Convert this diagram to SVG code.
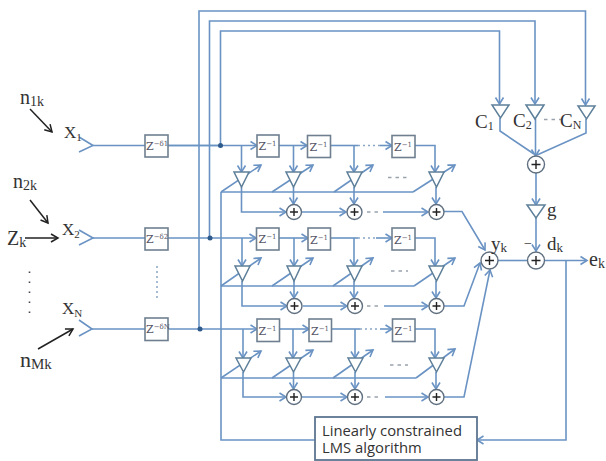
<svg xmlns="http://www.w3.org/2000/svg" width="606" height="461" viewBox="0 0 606 461">
<style>
.w{fill:none;stroke:#6a93c4;stroke-width:1.6}
.a{marker-end:url(#ah)}
.k{fill:none;stroke:#222;stroke-width:1.5;marker-end:url(#ak)}
.d{fill:none;stroke:#8aa6c6;stroke-width:1.5;stroke-dasharray:2 3}
.g{fill:none;stroke:#9aa3ad;stroke-width:1.4;stroke-dasharray:3.500 4}
.bd{fill:none;stroke:#445;stroke-width:1.6;stroke-dasharray:1.500 8.500}
.box{fill:#fff;stroke:#6f7f8f;stroke-width:1.6}
.tri{fill:#fff;stroke:#5d7f99;stroke-width:1.5}
.sum{fill:#fff;stroke:#5f6f7f;stroke-width:1.4}
.plus{fill:none;stroke:#222;stroke-width:1.4}
.dot{fill:#2f5a8c}
.t{font-family:"Liberation Serif",serif;fill:#333}
.z{font-family:"DejaVu Serif",serif;font-size:11px;fill:#556}
.l{font-family:"Open Sans",sans-serif;font-size:14.800px;fill:#333}
</style>
<defs>
<marker id="ah" markerUnits="userSpaceOnUse" markerWidth="12" markerHeight="12" refX="8" refY="5" orient="auto" overflow="visible"><path d="M1.500,1L8,5L1.500,9" fill="none" stroke="#6a93c4" stroke-width="1.600"/></marker>
<marker id="ak" markerUnits="userSpaceOnUse" markerWidth="12" markerHeight="12" refX="8" refY="5" orient="auto" overflow="visible"><path d="M1,1L8,5L1,9" fill="none" stroke="#222" stroke-width="1.500"/></marker>
</defs>

<g id="connectors">
<path class="w a" d="M199,329V11H585.500V105"/>
<path class="w a" d="M209.500,238V21H535V104"/>
<path class="w a" d="M220.500,145V31H499.500V104"/>
<path class="w" d="M221,192V440H315"/>
<path class="w a" d="M566,261V440H477"/>
<path class="w" d="M500,118V131L534,154"/>
<path class="w a" d="M535.500,119V156"/>
<path class="w" d="M586,119V133L537,155"/>
<path class="w a" d="M536,173V205"/>
<path class="w a" d="M536,218V251"/>
<path class="w" d="M498,260.500H527"/>
<path class="w a" d="M545,260.500H587"/>
<path class="w" d="M93,145.500H145M168,145.500H220"/>
<path class="w" d="M93,238H145M168,238H210"/>
<path class="w" d="M92,329H145M168,329H200"/>
<!-- row 1 -->
<path class="w a" d="M168,145.500H257"/><path class="w a" d="M279,145.500H307"/><path class="w" d="M330,145.500H358"/><path class="w a" d="M380,145.500H392"/>
<path class="d" d="M358,145.500H380"/>
<path class="w a" d="M415,145.500H435V172"/>
<path class="w a" d="M241.500,145.500V172"/><path class="w a" d="M293.500,145.500V172"/><path class="w a" d="M354,145.500V172"/>
<path class="w" d="M221,192H413"/>
<path class="w a" d="M221,192L261,165"/><path class="w a" d="M272,192L313,165"/><path class="w a" d="M334,192L373,165"/><path class="w a" d="M413,192L455,165"/>
<path class="w a" d="M241.500,187V212H286"/>
<path class="w a" d="M293.500,187V204"/><path class="w a" d="M354,187V204"/><path class="w a" d="M436,187V204"/>
<path class="w a" d="M302,212H346"/><path class="w a" d="M383,212H428"/>
<path class="g" d="M367,212H382"/>
<path class="w a" d="M444,211.500H462L485,250"/>
<!-- row 2 -->
<path class="w a" d="M210,238H256"/><path class="w a" d="M279,238H308"/><path class="w" d="M330,238H358"/><path class="w a" d="M376,238H392"/>
<path class="d" d="M358,238H376"/>
<path class="w a" d="M415,238H435V266"/>
<path class="w a" d="M242,238V266"/><path class="w a" d="M294,238V266"/><path class="w a" d="M354,238V266"/>
<path class="w" d="M221,286H414"/>
<path class="w a" d="M221,286L261,258"/><path class="w a" d="M272,286L313,258"/><path class="w a" d="M333,286L373,258"/><path class="w a" d="M414,286L455,258"/>
<path class="w a" d="M242,281V306H287"/>
<path class="w a" d="M294,281V298"/><path class="w a" d="M354,281V298"/><path class="w a" d="M436,281V298"/>
<path class="w a" d="M303,306H347"/><path class="w a" d="M384,306H428"/>
<path class="g" d="M367,306H382"/>
<path class="w a" d="M444,306H464L480,263"/>
<!-- row 3 -->
<path class="w a" d="M200,329H257"/><path class="w a" d="M279,329H309"/><path class="w" d="M332,329H360"/><path class="w a" d="M380,329H392"/>
<path class="d" d="M360,329H380"/>
<path class="w a" d="M415,329H435V358"/>
<path class="w a" d="M243,329V358"/><path class="w a" d="M293,329V358"/><path class="w a" d="M355,329V358"/>
<path class="w" d="M221,378H416"/>
<path class="w a" d="M221,378L261,351"/><path class="w a" d="M272,378L313,350"/><path class="w a" d="M333,378L373,350"/><path class="w a" d="M416,378L455,349"/>
<path class="w a" d="M243,372V397H286"/>
<path class="w a" d="M293.500,372V389"/><path class="w a" d="M355,372V389"/><path class="w a" d="M436,372V389"/>
<path class="w a" d="M302,397H347"/><path class="w a" d="M385,397H428"/>
<path class="g" d="M367,397H382"/>
<path class="w a" d="M444,397H464L490,270"/>
<!-- dotted links -->
<path class="g" d="M544,119.500H561" />
<path class="d" d="M157,266V298"/>
<path class="bd" d="M29.500,271.500V313"/>
<path class="g" d="M388,177.500H407M391,271H408M390,365H408"/>
<!-- black arrows -->
<path class="k" d="M30,109L52,132"/>
<path class="k" d="M30,200L48,223"/>
<path class="k" d="M25,238H58"/>
<path class="k" d="M38,349L73,329"/>
</g>

<g id="dots"><circle class="dot" cx="220.500" cy="145.500" r="2.500"/><circle class="dot" cx="210" cy="238" r="2.500"/><circle class="dot" cx="200" cy="329" r="2.500"/></g>

<g id="in1"><path class="w" d="M79,137L93,145.500L79,152"/><text class="t" x="64" y="138" font-size="17">X<tspan font-size="11" dy="3">1</tspan></text></g>
<g id="in2"><path class="w" d="M79,230L93,238L79,245"/><text class="t" x="62" y="235" font-size="17">X<tspan font-size="11" dy="3">2</tspan></text></g>
<g id="inN"><path class="w" d="M79,320L92,329L79,336"/><text class="t" x="62" y="314" font-size="17">X<tspan font-size="11" dy="3">N</tspan></text></g>
<g id="n1k"><text class="t" x="20" y="104" font-size="20">n<tspan font-size="14" dy="2">1k</tspan></text></g>
<g id="n2k"><text class="t" x="13" y="188" font-size="20">n<tspan font-size="14" dy="2">2k</tspan></text></g>
<g id="zk"><text class="t" x="7" y="245" font-size="20">Z<tspan font-size="14" dy="2">k</tspan></text></g>
<g id="nMk"><text class="t" x="20" y="367" font-size="22">n<tspan font-size="15" dy="2">Mk</tspan></text></g>

<g id="delay1"><rect class="box" x="145" y="135" width="23" height="22"/><text class="z" x="146" y="150">Z<tspan font-size="7" dy="-4">−δ1</tspan></text></g>
<g id="delay2"><rect class="box" x="145" y="228" width="23" height="22"/><text class="z" x="146" y="243">Z<tspan font-size="7" dy="-4">−δ2</tspan></text></g>
<g id="delayN"><rect class="box" x="145" y="318" width="23" height="22.500"/><text class="z" x="146" y="333">Z<tspan font-size="7" dy="-4">−δN</tspan></text></g>

<g id="z11"><rect class="box" x="257" y="135" width="22" height="22"/><text class="z" x="258.500" y="150">Z<tspan font-size="7" dy="-4">−1</tspan></text></g>
<g id="z12"><rect class="box" x="307.500" y="135.500" width="23" height="22"/><text class="z" x="309.500" y="151">Z<tspan font-size="7" dy="-4">−1</tspan></text></g>
<g id="z13"><rect class="box" x="392" y="135.500" width="23" height="22"/><text class="z" x="394" y="151">Z<tspan font-size="7" dy="-4">−1</tspan></text></g>
<g id="z21"><rect class="box" x="256.500" y="228" width="22.500" height="22"/><text class="z" x="258.500" y="243">Z<tspan font-size="7" dy="-4">−1</tspan></text></g>
<g id="z22"><rect class="box" x="308" y="228" width="22.500" height="22"/><text class="z" x="310" y="244">Z<tspan font-size="7" dy="-4">−1</tspan></text></g>
<g id="z23"><rect class="box" x="392" y="228" width="23" height="22"/><text class="z" x="394" y="244">Z<tspan font-size="7" dy="-4">−1</tspan></text></g>
<g id="z31"><rect class="box" x="257" y="319" width="22.500" height="22.500"/><text class="z" x="258.500" y="335">Z<tspan font-size="7" dy="-4">−1</tspan></text></g>
<g id="z32"><rect class="box" x="309" y="319" width="22.500" height="22.500"/><text class="z" x="311" y="335">Z<tspan font-size="7" dy="-4">−1</tspan></text></g>
<g id="z33"><rect class="box" x="392.500" y="319" width="22.500" height="22.500"/><text class="z" x="394.500" y="335">Z<tspan font-size="7" dy="-4">−1</tspan></text></g>

<g id="t11"><path class="tri" d="M234,172H249L241.500,187Z"/></g>
<g id="t12"><path class="tri" d="M286,172H301L293.500,187Z"/></g>
<g id="t13"><path class="tri" d="M347,172H362L354.500,187Z"/></g>
<g id="t14"><path class="tri" d="M429,172H444L436.500,187Z"/></g>
<g id="t21"><path class="tri" d="M235,266H250L242.500,281Z"/></g>
<g id="t22"><path class="tri" d="M287,266H301L294,281Z"/></g>
<g id="t23"><path class="tri" d="M347,266H362L354.500,281Z"/></g>
<g id="t24"><path class="tri" d="M429,266H444L436.500,281Z"/></g>
<g id="t31"><path class="tri" d="M236,358H251L243.500,372Z"/></g>
<g id="t32"><path class="tri" d="M286,358H301L293.500,372Z"/></g>
<g id="t33"><path class="tri" d="M348,358H363L355.500,372Z"/></g>
<g id="t34"><path class="tri" d="M429,358H444L436.500,372Z"/></g>

<g id="c1"><path class="tri" d="M492,105H509L500.500,118Z"/><text class="t" x="475" y="128" font-size="19">C<tspan font-size="12" dy="2">1</tspan></text></g>
<g id="c2"><path class="tri" d="M526,105H544L535,119Z"/><text class="t" x="513" y="127" font-size="19">C<tspan font-size="12" dy="2">2</tspan></text></g>
<g id="cN"><path class="tri" d="M578,106H595L586.500,119Z"/><text class="t" x="560" y="127" font-size="19">C<tspan font-size="12" dy="2">N</tspan></text></g>
<g id="gain"><path class="tri" d="M527,205H545L536,218Z"/><text class="t" x="547" y="216" font-size="19">g</text></g>

<g id="sums">
<g id="s12"><circle class="sum" cx="294" cy="212" r="7.500"/><path class="plus" d="M290,212H298M294,208V216"/></g>
<g id="s13"><circle class="sum" cx="354.500" cy="212" r="7.500"/><path class="plus" d="M350.500,212H358.500M354.500,208V216"/></g>
<g id="s14"><circle class="sum" cx="436.500" cy="212" r="7.500"/><path class="plus" d="M432.500,212H440.500M436.500,208V216"/></g>
<g id="s22"><circle class="sum" cx="294.500" cy="306" r="7.500"/><path class="plus" d="M290.500,306H298.500M294.500,302V310"/></g>
<g id="s23"><circle class="sum" cx="355" cy="306" r="7.500"/><path class="plus" d="M351,306H359M355,302V310"/></g>
<g id="s24"><circle class="sum" cx="436.500" cy="306" r="7.500"/><path class="plus" d="M432.500,306H440.500M436.500,302V310"/></g>
<g id="s32"><circle class="sum" cx="294" cy="397" r="7.500"/><path class="plus" d="M290,397H298M294,393V401"/></g>
<g id="s33"><circle class="sum" cx="355" cy="397" r="7.500"/><path class="plus" d="M351,397H359M355,393V401"/></g>
<g id="s34"><circle class="sum" cx="436.500" cy="397" r="7.500"/><path class="plus" d="M432.500,397H440.500M436.500,393V401"/></g>
<g id="sc"><circle class="sum" cx="536" cy="164.500" r="8.500"/><path class="plus" d="M531.500,164.500H540.500M536,160V169"/></g>
<g id="sy"><circle class="sum" cx="489.500" cy="260.500" r="8.500"/><path class="plus" d="M485,260.500H494M489.500,256V265"/></g>
<g id="sd"><circle class="sum" cx="536" cy="260.500" r="8.500"/><path class="plus" d="M531.500,260.500H540.500M536,256V265"/></g>
</g>

<g id="labels">
<text class="t" x="491" y="250" font-size="19">y<tspan font-size="13" dy="2">k</tspan></text>
<text class="t" x="547" y="250" font-size="19">d<tspan font-size="13" dy="2">k</tspan></text>
<text class="t" x="589" y="266" font-size="20">e<tspan font-size="14" dy="2">k</tspan></text>
<text class="t" x="524" y="248" font-size="14">−</text>
</g>

<g id="lms"><rect x="315" y="417" width="162" height="43" fill="#fff" stroke="#5d7590" stroke-width="1.800"/><text class="l" x="322" y="435.500">Linearly constrained</text><text class="l" x="322" y="453">LMS algorithm</text></g>
</svg>
